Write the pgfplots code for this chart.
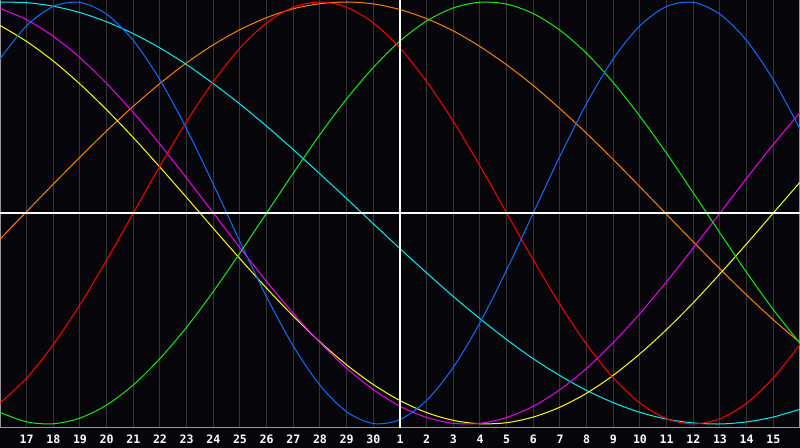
\documentclass[border=0pt]{standalone}
\usepackage{fontspec}
\usepackage{pgfplots}
\usepackage{pgfplotstable}
\pgfplotsset{compat=1.18}
\newfontfamily\labelfont{DejaVu Sans Mono}

\definecolor{bg}{RGB}{5,5,10}
\definecolor{gridgray}{RGB}{52,52,56}
\definecolor{framegray}{RGB}{150,150,150}
\definecolor{cred}{RGB}{255,0,0}
\definecolor{cgreen}{RGB}{20,235,20}
\definecolor{cblue}{RGB}{16,110,255}
\definecolor{corange}{RGB}{255,128,0}
\definecolor{ccyan}{RGB}{0,240,240}
\definecolor{cmagenta}{RGB}{240,0,240}
\definecolor{cyellow}{RGB}{255,255,0}

% day index t: 0 = 16th of the previous month, 15 = the 1st
\pgfplotstableread{
t  red    green  blue   orange cyan   magenta yellow
0  -0.901 -0.945 0.731  -0.124 0.999  0.969   0.889
1  -0.782 -0.990 0.888  0.007  0.997  0.916   0.813
2  -0.623 -0.999 0.979  0.137  0.980  0.837   0.720
3  -0.434 -0.972 0.998  0.265  0.950  0.736   0.611
4  -0.223 -0.910 0.942  0.389  0.906  0.614   0.489
5  0.000  -0.815 0.817  0.506  0.850  0.476   0.357
6  0.223  -0.690 0.631  0.614  0.782  0.325   0.217
7  0.434  -0.541 0.398  0.712  0.703  0.165   0.073
8  0.623  -0.372 0.136  0.797  0.613  0.000   -0.073
9  0.782  -0.189 -0.136 0.869  0.516  -0.165  -0.217
10 0.901  0.000  -0.398 0.926  0.411  -0.325  -0.357
11 0.975  0.189  -0.631 0.968  0.300  -0.476  -0.489
12 1.000  0.372  -0.817 0.992  0.185  -0.614  -0.611
13 0.975  0.541  -0.942 1.000  0.068  -0.736  -0.720
14 0.901  0.690  -0.998 0.991  -0.051 -0.837  -0.813
15 0.782  0.815  -0.979 0.964  -0.169 -0.916  -0.889
16 0.623  0.910  -0.888 0.921  -0.284 -0.969  -0.946
17 0.434  0.972  -0.731 0.863  -0.396 -0.997  -0.983
18 0.223  0.999  -0.520 0.789  -0.501 -0.997  -0.999
19 0.000  0.990  -0.270 0.702  -0.600 -0.969  -0.994
20 -0.223 0.945  0.000  0.604  -0.691 -0.916  -0.967
21 -0.434 0.866  0.270  0.494  -0.771 -0.837  -0.920
22 -0.623 0.756  0.520  0.377  -0.841 -0.736  -0.854
23 -0.782 0.618  0.731  0.253  -0.899 -0.614  -0.769
24 -0.901 0.458  0.888  0.124  -0.945 -0.476  -0.667
25 -0.975 0.282  0.979  -0.007 -0.977 -0.325  -0.552
26 -1.000 0.095  0.998  -0.137 -0.995 -0.165  -0.425
27 -0.975 -0.095 0.942  -0.265 -1.000 0.000   -0.288
28 -0.901 -0.282 0.817  -0.389 -0.990 0.165   -0.146
29 -0.782 -0.458 0.631  -0.506 -0.967 0.325   0.000
30 -0.623 -0.618 0.398  -0.614 -0.930 0.476   0.146
}\biodata

\begin{document}
\begin{tikzpicture}[x=1pt,y=1pt]
\fill[bg] (0,-10) rectangle (400,214);
\begin{axis}[
    at={(0,0)}, anchor=south west,
    width=400pt, height=214pt, scale only axis,
    xmin=0, xmax=30, ymin=-1.019, ymax=1.0095,
    axis background/.style={fill=bg},
    axis line style={draw=framegray, line width=0.5pt},
    xtick={1,2,...,29},
    xticklabels={17,18,19,20,21,22,23,24,25,26,27,28,29,30,1,2,3,4,5,6,7,8,9,10,11,12,13,14,15},
    ytick=\empty,
    major tick length=0pt,
    xmajorgrids,
    major grid style={draw=gridgray, line width=0.5pt},
    xticklabel style={font=\labelfont\bfseries\fontsize{5.8}{6}\selectfont,
        text=white, anchor=center, inner sep=0pt, yshift=-5.5pt},
    every axis plot/.append style={line width=0.5pt, no marks},
]
\addplot[corange, smooth] table[x=t, y=orange] {\biodata};
\addplot[ccyan, smooth] table[x=t, y=cyan] {\biodata};
\addplot[cyellow, smooth] table[x=t, y=yellow] {\biodata};
\addplot[cmagenta, smooth] table[x=t, y=magenta] {\biodata};
\addplot[cgreen, smooth] table[x=t, y=green] {\biodata};
\addplot[cred, smooth] table[x=t, y=red] {\biodata};
\addplot[cblue, smooth] table[x=t, y=blue] {\biodata};
% zero line and today's marker
\addplot[white, line width=0.6pt] coordinates {(0,0) (30,0)};
\addplot[white, line width=0.6pt] coordinates {(15,-1.02) (15,1.01)};
\end{axis}
\pgfresetboundingbox
\useasboundingbox (0,-10) rectangle (400,214);
\end{tikzpicture}
\end{document}
